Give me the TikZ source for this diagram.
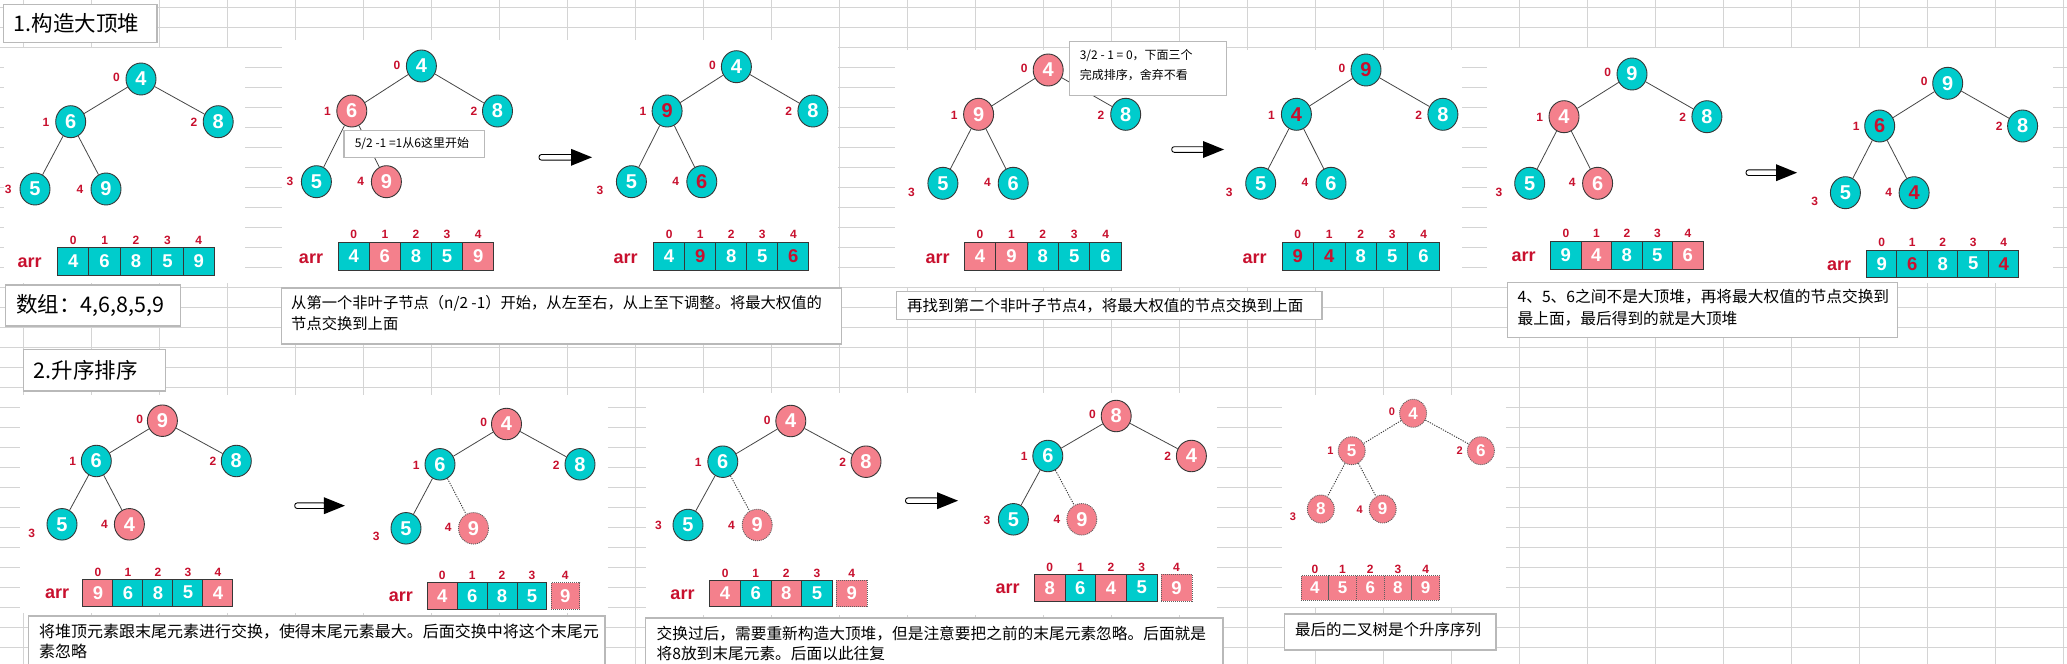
\documentclass[tikz,border=0pt]{standalone}
\usepackage{fontspec}
\setmainfont{Noto Sans CJK SC}
\newfontfamily\arialf{Liberation Sans}
\usetikzlibrary{shapes.geometric}
\definecolor{tl}{RGB}{0,204,204}
\definecolor{pk}{RGB}{244,128,140}
\definecolor{rd}{RGB}{200,16,46}
\definecolor{bd}{RGB}{55,55,55}
\definecolor{gridc}{RGB}{212,212,212}
\definecolor{boxc}{RGB}{185,185,185}
\definecolor{edgec}{RGB}{70,70,70}
\tikzset{
 hnode/.style={ellipse, draw=bd, line width=0.9pt, minimum width=30pt, minimum height=32pt, inner sep=0pt, text=white, font=\arialf\bfseries\fontsize{20}{20}\selectfont},
 tn/.style={hnode, fill=tl},
 pn/.style={hnode, fill=pk},
 pdn/.style={hnode, fill=pk, draw=bd!80, dash pattern=on 1pt off 1pt},
 rt/.style={text=rd},
 sm/.style={minimum width=30pt, minimum height=31.5pt},
 tiny/.style={minimum width=27pt, minimum height=28pt, font=\arialf\bfseries\fontsize{17}{17}\selectfont},
 idx/.style={text=rd, font=\arialf\bfseries\fontsize{12}{12}\selectfont, inner sep=0pt},
 sidx/.style={text=rd, font=\arialf\bfseries\fontsize{11}{11}\selectfont, inner sep=0pt},
 arrl/.style={text=rd, font=\arialf\bfseries\fontsize{18}{18}\selectfont, inner sep=0pt},
 cell/.style={rectangle, draw=bd, line width=0.9pt, inner sep=0pt, font=\arialf\bfseries\fontsize{18.5}{18.5}\selectfont},
 dcell/.style={draw=bd!80, dash pattern=on 1pt off 1pt},
 scell/.style={font=\arialf\bfseries\fontsize{17}{17}\selectfont},
 edge/.style={draw=edgec, line width=0.8pt},
 dedge/.style={draw=bd, line width=0.9pt, dash pattern=on 1.2pt off 1.3pt},
 tbox/.style={draw=boxc, line width=1.2pt, fill=white},
 btxt/.style={anchor=west, inner sep=0pt},
 ctxt/.style={anchor=west, inner sep=0pt, font=\fontsize{12}{12}\selectfont},
 ttxt/.style={anchor=west, inner sep=0pt, font=\fontsize{21.5}{21.5}\selectfont},
 img/.style={fill=white},
}
\newcommand\hn[8]{\node[#5] (#1) at (#2,#3) {#4}; \node[idx] (#1i) at (#6,#7) {#8};}
\newcommand\hns[8]{\node[#5] (#1) at (#2,#3) {#4}; \node[sidx] (#1i) at (#6,#7) {#8};}
\newcommand\harr[8]{\foreach \cv/\cf/\ct [count=\ci from 0] in {#8}{%
  \node[cell,#7,fill=\cf,text=\ct,minimum width=#4pt,minimum height=#5pt] (#1\ci) at ({#2+#4*(\ci+0.5)},#3) {\cv};
  \node[idx] (#1i\ci) at ({#2+#4*(\ci+0.5)},#6) {\ci};}}
\newcommand\fatarrow[3]{%
  \draw[black, line width=0.9pt, fill=white, rounded corners=2.5pt] (#1,#3-2.8) -- (#2-19,#3-2.8) -- (#2-19,#3+2.8) -- (#1,#3+2.8) -- cycle;
  \fill[black] (#2-21,#3-8.5) -- (#2,#3) -- (#2-21,#3+8.5) -- cycle;}
\begin{document}
\begin{tikzpicture}[x=1pt,y=-1pt]
\useasboundingbox (0,0) rectangle (2067,664);
\fill[white] (0,0) rectangle (2067,664);
% spreadsheet grid
\foreach \j in {0,...,30} \draw[gridc, line width=1pt] ({23.5+68*\j},0) -- ({23.5+68*\j},664);
\foreach \k in {0,...,32} \draw[gridc, line width=1pt] (0,{7.3+20*\k}) -- (2067,{7.3+20*\k});
% pasted pictures
\fill[img] (4,48) rectangle (245,283);
\fill[img] (282,40) rectangle (838,287);
\fill[img] (895,50) rectangle (1462,287);
\fill[img] (1487,48) rectangle (2053,283);
\fill[img] (20,395) rectangle (608,613);
\fill[img] (646,393) rectangle (1217,615);
\fill[img] (1282,395) rectangle (1506,607);

% ---------- Tree A ----------
\hn{a0}{141}{79}{4}{tn}{116.4}{77.7}{0}
\hn{a1}{70.7}{121.7}{6}{tn}{46}{122.7}{1}
\hn{a2}{218.2}{121.7}{8}{tn}{194}{122.7}{2}
\hn{a3}{35}{189}{5}{tn}{8.2}{189.3}{3}
\hn{a4}{106}{189}{9}{tn}{80}{189}{4}
\draw[edge] (a0)--(a1) (a0)--(a2) (a1)--(a3) (a1)--(a4);
\node[arrl] (aarr) at (29.6,262.3) {arr};
\harr{ac}{57.5}{261.3}{31.4}{28}{240}{}{4/tl/white,6/tl/white,8/tl/white,5/tl/white,9/tl/white}

% ---------- Tree B ----------
\hn{b0}{421.4}{66}{4}{tn}{397}{65}{0}
\hn{b1}{351.8}{111}{6}{pn}{327.5}{111.7}{1}
\hn{b2}{497.5}{111}{8}{tn}{474}{111.7}{2}
\hn{b3}{316.4}{181.7}{5}{tn}{290}{181.7}{3}
\hn{b4}{386.4}{181.7}{9}{pn}{360.7}{181.7}{4}
\draw[edge] (b0)--(b1) (b0)--(b2) (b1)--(b3) (b1)--(b4);
\node[arrl] (barr) at (311,258.3) {arr};
\harr{bc}{338.2}{256.5}{31.1}{28.4}{234.3}{}{4/tl/white,6/pk/white,8/tl/white,5/tl/white,9/pk/white}
\fatarrow{539}{592}{157.3}

% ---------- Tree C ----------
\hn{c0}{736.4}{66.7}{4}{tn}{712.5}{65}{0}
\hn{c1}{667.1}{111}{9}{tn,rt}{642.9}{111.7}{1}
\hn{c2}{812.9}{111}{8}{tn}{788.6}{111.7}{2}
\hn{c3}{631.4}{181.7}{5}{tn}{600}{190.7}{3}
\hn{c4}{701.8}{181.7}{6}{tn,rt}{675.7}{181.7}{4}
\draw[edge] (c0)--(c1) (c0)--(c2) (c1)--(c3) (c1)--(c4);
\node[arrl] (carr) at (625.7,258.3) {arr};
\harr{cc}{653.6}{256.5}{31.06}{28.4}{234.3}{}{4/tl/white,9/tl/rd,8/tl/white,5/tl/white,6/tl/rd}

% ---------- Tree D ----------
\hn{d0}{1048.2}{70}{4}{pn}{1024.3}{68.3}{0}
\hn{d1}{978.6}{114.3}{9}{pn}{954.3}{115}{1}
\hn{d2}{1125.7}{114.3}{8}{tn}{1101}{115}{2}
\hn{d3}{942.9}{183.3}{5}{tn}{911.4}{192.7}{3}
\hn{d4}{1013.2}{183.3}{6}{tn}{987.5}{182.7}{4}
\draw[edge] (d0)--(d1) (d0)--(d2) (d1)--(d3) (d1)--(d4);
\node[arrl] (darr) at (937.5,258.3) {arr};
\harr{dc}{964.3}{256.5}{31.4}{28.4}{234.3}{}{4/pk/white,9/pk/white,8/tl/white,5/tl/white,6/tl/white}
\fatarrow{1171.7}{1224}{149.5}

% ---------- Tree E ----------
\hn{e0}{1366}{70}{9}{tn,rt}{1342}{68.3}{0}
\hn{e1}{1296.4}{114.3}{4}{tn,rt}{1271.4}{115}{1}
\hn{e2}{1442.9}{114.3}{8}{tn}{1418.6}{115}{2}
\hn{e3}{1260.7}{183.3}{5}{tn}{1229.3}{192.7}{3}
\hn{e4}{1331}{183.3}{6}{tn}{1305}{182.7}{4}
\draw[edge] (e0)--(e1) (e0)--(e2) (e1)--(e3) (e1)--(e4);
\node[arrl] (earr) at (1254.6,258.3) {arr};
\harr{ec}{1282.1}{256.5}{31.44}{28.4}{234.3}{}{9/tl/rd,4/tl/rd,8/tl/white,5/tl/white,6/tl/white}

% ---------- Tree F ----------
\hn{f0}{1632}{74}{9}{tn}{1607.8}{72.7}{0}
\hn{f1}{1564}{116.7}{4}{pn}{1539.8}{117.3}{1}
\hn{f2}{1706.9}{116.7}{8}{tn}{1682.6}{117.3}{2}
\hn{f3}{1529.7}{183.3}{5}{tn}{1499}{192.7}{3}
\hn{f4}{1597.6}{183.3}{6}{pn}{1572.3}{182.7}{4}
\draw[edge] (f0)--(f1) (f0)--(f2) (f1)--(f3) (f1)--(f4);
\node[arrl] (farr) at (1523.5,256.7) {arr};
\harr{fc}{1550.6}{255}{30.5}{28}{233.3}{}{9/tl/white,4/pk/white,8/tl/white,5/tl/white,6/pk/white}
\fatarrow{1746}{1797}{172.7}

% ---------- Tree G ----------
\hn{g0}{1947.7}{83.3}{9}{tn}{1924.2}{81.7}{0}
\hn{g1}{1879.7}{126}{6}{tn,rt}{1856.2}{126.7}{1}
\hn{g2}{2022.6}{126}{8}{tn}{1999.1}{126.7}{2}
\hn{g3}{1845.4}{192.7}{5}{tn}{1814.6}{201.7}{3}
\hn{g4}{1914.1}{192.7}{4}{tn,rt}{1888.8}{192.7}{4}
\draw[edge] (g0)--(g1) (g0)--(g2) (g1)--(g3) (g1)--(g4);
\node[arrl] (garr) at (1839.2,265.7) {arr};
\harr{gc}{1866.4}{263.7}{30.5}{27.3}{242.7}{}{9/tl/white,6/tl/rd,8/tl/white,5/tl/white,4/tl/rd}

% ---------- Tree H ----------
\hn{h0}{162.4}{420.7}{9}{pn,sm}{139.6}{419.3}{0}
\hn{h1}{96.3}{461}{6}{tn,sm}{72.7}{461.7}{1}
\hn{h2}{236.3}{461}{8}{tn,sm}{213}{461.7}{2}
\hn{h3}{62}{524.3}{5}{tn,sm}{31.8}{533.3}{3}
\hn{h4}{129.4}{524.3}{4}{pn,sm}{104.5}{524}{4}
\draw[edge] (h0)--(h1) (h0)--(h2) (h1)--(h3) (h1)--(h4);
\node[arrl] (harr) at (57.1,594) {arr};
\harr{hc}{82.9}{592.7}{30}{26.7}{572.3}{}{9/pk/white,6/tl/white,8/tl/white,5/tl/white,4/pk/white}
\fatarrow{294.7}{344.9}{505.7}

% ---------- Tree I ----------
\hn{i0}{506.5}{424}{4}{pn,sm}{483.7}{422.7}{0}
\hn{i1}{440}{464.3}{6}{tn,sm}{416.3}{465}{1}
\hn{i2}{580}{464.3}{8}{tn,sm}{556.3}{465}{2}
\hn{i3}{406}{528.3}{5}{tn,sm}{376.3}{536.7}{3}
\hn{i4}{473.5}{528.3}{9}{pdn,sm}{448.2}{527.7}{4}
\draw[edge] (i0)--(i1) (i0)--(i2) (i1)--(i3);
\draw[dedge] (i1)--(i4);
\node[arrl] (iarr) at (400.8,596.7) {arr};
\harr{ic}{427.3}{595.8}{29.9}{26.3}{575.7}{}{4/pk/white,6/tl/white,8/tl/white,5/tl/white}
\node[cell,dcell,fill=pk,text=white,minimum width=28.6pt,minimum height=26.3pt] (ic4) at (565.3,595.8) {9};
\node[idx] (ici4) at (565.3,575.7) {4};

% ---------- Tree J ----------
\hn{j0}{790.8}{421}{4}{pn,sm}{767.1}{420}{0}
\hn{j1}{722.8}{461.7}{6}{tn,sm}{698.3}{462.3}{1}
\hn{j2}{866}{461.7}{8}{pn,sm}{842.6}{462.3}{2}
\hn{j3}{688}{525}{5}{tn,sm}{658.4}{525}{3}
\hn{j4}{757.2}{525}{9}{pdn,sm}{731.5}{525}{4}
\draw[edge] (j0)--(j1) (j0)--(j2) (j1)--(j3);
\draw[dedge] (j1)--(j4);
\node[arrl] (jarr) at (682.5,594.3) {arr};
\harr{jc}{709.8}{593.3}{30.6}{26.7}{573.3}{}{4/pk/white,6/tl/white,8/pk/white,5/tl/white}
\node[cell,dcell,fill=pk,text=white,minimum width=30.8pt,minimum height=26.7pt] (jc4) at (851.7,593.3) {9};
\node[idx] (jci4) at (851.7,573.3) {4};
\fatarrow{905.5}{958}{500.7}

% ---------- Tree K ----------
\hn{k0}{1116.2}{416}{8}{pn,sm}{1092.5}{414}{0}
\hn{k1}{1047.8}{456}{6}{tn,sm}{1024.1}{456.7}{1}
\hn{k2}{1191.4}{456}{4}{pn,sm}{1167.6}{456.7}{2}
\hn{k3}{1013.4}{519.3}{5}{tn,sm}{987}{520}{3}
\hn{k4}{1081.8}{519.3}{9}{pdn,sm}{1057}{519.3}{4}
\draw[edge] (k0)--(k1) (k0)--(k2) (k1)--(k3);
\draw[dedge] (k1)--(k4);
\node[arrl] (karr) at (1007.5,589) {arr};
\harr{kc}{1034.4}{587.7}{30.65}{26.7}{567.7}{}{8/pk/white,6/tl/white,4/pk/white,5/tl/white}
\node[cell,dcell,fill=pk,text=white,minimum width=31pt,minimum height=26.7pt] (kc4) at (1176.5,587.7) {9};
\node[idx] (kci4) at (1176.5,567.7) {4};

% ---------- Tree L ----------
\hns{l0}{1413.1}{413.3}{4}{pdn,tiny}{1391.8}{411.7}{0}
\hns{l1}{1351.7}{450.7}{5}{pdn,tiny}{1330.4}{450.7}{1}
\hns{l2}{1480.9}{450.7}{6}{pdn,tiny}{1459.6}{450.7}{2}
\hns{l3}{1320.8}{509}{8}{pdn,tiny}{1293}{516.7}{3}
\hns{l4}{1382.7}{509}{9}{pdn,tiny}{1359.7}{509.3}{4}
\draw[dedge] (l0)--(l1) (l0)--(l2) (l1)--(l3) (l1)--(l4);
\harr{lc}{1301}{587.8}{27.7}{24.3}{569}{dcell,scell}{4/pk/white,5/pk/white,6/pk/white,8/pk/white,9/pk/white}

% ---------- callouts ----------
\draw[tbox] (344,130.7) rectangle (484.6,157.3);
\node[ctxt] (co1) at (354.6,143.3) {5/2 -1 =1从6这里开始};
\draw[tbox] (1069.6,41.7) rectangle (1226.8,95.7);
\node[ctxt] (co2a) at (1079.6,56) {3/2 - 1 = 0，下面三个};
\node[ctxt] (co2b) at (1079.6,75) {完成排序，舍弃不看};

% ---------- text boxes ----------
\draw[tbox] (3.6,4.7) rectangle (157,42.3);
\node[ttxt] (title1) at (13.6,23.5) {1.构造大顶堆};
\draw[tbox] (5.4,285) rectangle (180.4,326);
\node[ttxt] (arrtxt) at (16,305.5) {数组：4,6,8,5,9};
\draw[tbox] (281.6,288) rectangle (841.4,344);
\node[btxt,font=\fontsize{15.3}{15.3}\selectfont] (bc1) at (291,303) {从第一个非叶子节点（n/2 -1）开始，从左至右，从上至下调整。将最大权值的};
\node[btxt,font=\fontsize{15.3}{15.3}\selectfont] (bc2) at (291,324) {节点交换到上面};
\draw[tbox] (896.4,291.7) rectangle (1322,319.3);
\node[btxt,font=\fontsize{15.5}{15.5}\selectfont] (de1) at (907,306) {再找到第二个非叶子节点4，将最大权值的节点交换到上面};
\draw[tbox] (1507.2,282.7) rectangle (1897.8,337.3);
\node[btxt,font=\fontsize{15.7}{15.7}\selectfont] (fg1) at (1517.4,296.7) {4、5、6之间不是大顶堆，再将最大权值的节点交换到};
\node[btxt,font=\fontsize{15.7}{15.7}\selectfont] (fg2) at (1517.4,318.3) {最上面，最后得到的就是大顶堆};
\draw[tbox] (23.7,349.3) rectangle (165.3,391);
\node[ttxt] (title2) at (33.5,370) {2.升序排序};
\draw[tbox] (28.6,616) rectangle (605,675);
\node[btxt,font=\fontsize{16}{16}\selectfont] (h1t) at (38.8,631.7) {将堆顶元素跟末尾元素进行交换，使得末尾元素最大。后面交换中将这个末尾元};
\node[btxt,font=\fontsize{16}{16}\selectfont] (h2t) at (38.8,651.7) {素忽略};
\draw[tbox] (645.7,618) rectangle (1223,675);
\node[btxt,font=\fontsize{15.7}{15.7}\selectfont] (i1t) at (656.4,634) {交换过后，需要重新构造大顶堆，但是注意要把之前的末尾元素忽略。后面就是};
\node[btxt,font=\fontsize{15.7}{15.7}\selectfont] (i2t) at (656.4,654) {将8放到末尾元素。后面以此往复};
\draw[tbox] (1284.5,614) rectangle (1496,650);
\node[btxt,font=\fontsize{15.5}{15.5}\selectfont] (l1t) at (1295,630) {最后的二叉树是个升序序列};
\end{tikzpicture}
\end{document}
